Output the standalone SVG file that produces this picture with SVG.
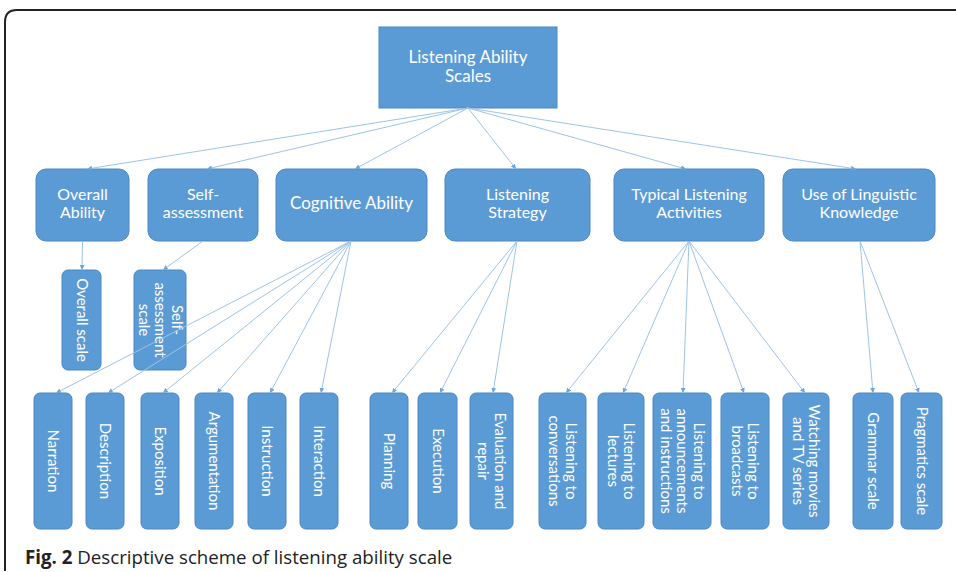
<svg xmlns="http://www.w3.org/2000/svg" width="956" height="572" viewBox="0 0 956 572">
<style>
.bx{fill:#5B9BD5;stroke:#4A87C2;stroke-width:1}
.t{font-family:Lato,"Open Sans",sans-serif;fill:#ffffff;text-anchor:middle}
.t2{font-size:16px}
.t3{font-size:15px}
.cn line{stroke:#9DC3E6;stroke-width:1;fill:none;marker-end:url(#ah)}
.cap{font-family:"Open Sans",sans-serif;font-size:18.7px;fill:#222}
</style>
<defs>
<marker id="ah" viewBox="0 0 10 10" refX="10" refY="5" markerWidth="5" markerHeight="5" orient="auto" markerUnits="userSpaceOnUse">
<path d="M0,0 L10,5 L0,10 Z" fill="#6FA6DA"/>
</marker>
</defs>
<rect width="956" height="572" fill="#ffffff"/>
<path d="M5,571 V22 Q5,10 17,10 H956" fill="none" stroke="#222" stroke-width="2"/>

<g id="root">
<rect class="bx" x="379" y="27" width="178" height="81"/>
<text class="t" font-size="17" x="468" y="63">Listening Ability</text>
<text class="t" font-size="17" x="468" y="82">Scales</text>
</g>

<g id="overall-ability"><rect class="bx" x="36" y="169" width="93" height="72" rx="10"/>
<text class="t t2" x="82.5" y="200">Overall</text><text class="t t2" x="82.5" y="218">Ability</text></g>
<g id="self-assessment"><rect class="bx" x="148" y="169" width="110" height="72" rx="10"/>
<text class="t t2" x="203" y="200">Self-</text><text class="t t2" x="203" y="218">assessment</text></g>
<g id="cognitive-ability"><rect class="bx" x="276" y="169" width="151" height="72" rx="10"/>
<text class="t" font-size="17" x="351.5" y="209">Cognitive Ability</text></g>
<g id="listening-strategy"><rect class="bx" x="445" y="169" width="145" height="72" rx="10"/>
<text class="t t2" x="517.5" y="200">Listening</text><text class="t t2" x="517.5" y="218">Strategy</text></g>
<g id="typical-listening-activities"><rect class="bx" x="614" y="169" width="150" height="72" rx="10"/>
<text class="t t2" x="689" y="200">Typical Listening</text><text class="t t2" x="689" y="218">Activities</text></g>
<g id="use-of-linguistic-knowledge"><rect class="bx" x="783" y="169" width="152" height="72" rx="10"/>
<text class="t t2" x="859" y="200">Use of Linguistic</text><text class="t t2" x="859" y="218">Knowledge</text></g>

<g id="overall-scale"><rect class="bx" x="62" y="270" width="39" height="100" rx="6"/>
<g transform="translate(81.5,320) rotate(90)"><text class="t t3" x="0" y="5">Overall scale</text></g></g>
<g id="self-assessment-scale"><rect class="bx" x="134" y="270" width="52" height="100" rx="6"/>
<g transform="translate(160,320) rotate(90)"><text class="t t3" x="0" y="-11.5">Self-</text><text class="t t3" x="0" y="5">assessment</text><text class="t t3" x="0" y="21.5">scale</text></g></g>

<g id="narration"><rect class="bx" x="34" y="393" width="38" height="136" rx="6"/>
<g transform="translate(53,461) rotate(90)"><text class="t t3" y="5">Narration</text></g></g>
<g id="description"><rect class="bx" x="86" y="393" width="38" height="136" rx="6"/>
<g transform="translate(105,461) rotate(90)"><text class="t t3" y="5">Description</text></g></g>
<g id="exposition"><rect class="bx" x="141" y="393" width="38" height="136" rx="6"/>
<g transform="translate(160,461) rotate(90)"><text class="t t3" y="5">Exposition</text></g></g>
<g id="argumentation"><rect class="bx" x="195" y="393" width="38" height="136" rx="6"/>
<g transform="translate(214,461) rotate(90)"><text class="t t3" y="5">Argumentation</text></g></g>
<g id="instruction"><rect class="bx" x="248" y="393" width="38" height="136" rx="6"/>
<g transform="translate(267,461) rotate(90)"><text class="t t3" y="5">Instruction</text></g></g>
<g id="interaction"><rect class="bx" x="300" y="393" width="38" height="136" rx="6"/>
<g transform="translate(319,461) rotate(90)"><text class="t t3" y="5">Interaction</text></g></g>

<g id="planning"><rect class="bx" x="370" y="393" width="38" height="136" rx="6"/>
<g transform="translate(389,461) rotate(90)"><text class="t t3" y="5">Planning</text></g></g>
<g id="execution"><rect class="bx" x="418" y="393" width="39" height="136" rx="6"/>
<g transform="translate(437.5,461) rotate(90)"><text class="t t3" y="5">Execution</text></g></g>
<g id="evaluation-and-repair"><rect class="bx" x="470" y="393" width="43" height="136" rx="6"/>
<g transform="translate(491.5,461) rotate(90)"><text class="t t3" y="-3">Evaluation and</text><text class="t t3" y="13.5">repair</text></g></g>

<g id="listening-to-conversations"><rect class="bx" x="539" y="393" width="47" height="136" rx="6"/>
<g transform="translate(562.5,461) rotate(90)"><text class="t t3" y="-3">Listening to</text><text class="t t3" y="13.5">conversations</text></g></g>
<g id="listening-to-lectures"><rect class="bx" x="598" y="393" width="46" height="136" rx="6"/>
<g transform="translate(621,461) rotate(90)"><text class="t t3" y="-3">Listening to</text><text class="t t3" y="13.5">lectures</text></g></g>
<g id="listening-to-announcements"><rect class="bx" x="653" y="393" width="58" height="136" rx="6"/>
<g transform="translate(682,461) rotate(90)"><text class="t t3" y="-11.5">Listening to</text><text class="t t3" y="5">announcements</text><text class="t t3" y="21.5">and instructions</text></g></g>
<g id="listening-to-broadcasts"><rect class="bx" x="721" y="393" width="48" height="136" rx="6"/>
<g transform="translate(745,461) rotate(90)"><text class="t t3" y="-3">Listening to</text><text class="t t3" y="13.5">broadcasts</text></g></g>
<g id="watching-movies"><rect class="bx" x="783" y="393" width="46" height="136" rx="6"/>
<g transform="translate(806,461) rotate(90)"><text class="t t3" y="-3">Watching movies</text><text class="t t3" y="13.5">and TV series</text></g></g>

<g id="grammar-scale"><rect class="bx" x="853" y="393" width="40" height="136" rx="6"/>
<g transform="translate(873,461) rotate(90)"><text class="t t3" y="5">Grammar scale</text></g></g>
<g id="pragmatics-scale"><rect class="bx" x="901" y="393" width="41" height="136" rx="6"/>
<g transform="translate(921.5,461) rotate(90)"><text class="t t3" y="5">Pragmatics scale</text></g></g>

<g id="connectors" class="cn">
<line x1="468" y1="108" x2="87" y2="169"/>
<line x1="468" y1="108" x2="207" y2="169"/>
<line x1="468" y1="108" x2="355" y2="169"/>
<line x1="468" y1="108" x2="516" y2="169"/>
<line x1="468" y1="108" x2="686" y2="169"/>
<line x1="468" y1="108" x2="856" y2="169"/>
<line x1="82.5" y1="241" x2="82" y2="270"/>
<line x1="203" y1="241" x2="163" y2="270"/>
<line x1="351" y1="241" x2="56" y2="393"/>
<line x1="351" y1="241" x2="108" y2="393"/>
<line x1="351" y1="241" x2="163" y2="393"/>
<line x1="351" y1="241" x2="217" y2="393"/>
<line x1="351" y1="241" x2="270" y2="393"/>
<line x1="351" y1="241" x2="321" y2="393"/>
<line x1="517" y1="241" x2="392" y2="393"/>
<line x1="517" y1="241" x2="440" y2="393"/>
<line x1="517" y1="241" x2="493" y2="393"/>
<line x1="689" y1="241" x2="566" y2="393"/>
<line x1="689" y1="241" x2="623" y2="393"/>
<line x1="689" y1="241" x2="683" y2="393"/>
<line x1="689" y1="241" x2="744" y2="393"/>
<line x1="689" y1="241" x2="805" y2="393"/>
<line x1="860" y1="241" x2="873" y2="393"/>
<line x1="860" y1="241" x2="919" y2="393"/>
</g>

<text class="cap" x="25" y="564"><tspan font-weight="bold">Fig. 2</tspan> Descriptive scheme of listening ability scale</text>
</svg>
